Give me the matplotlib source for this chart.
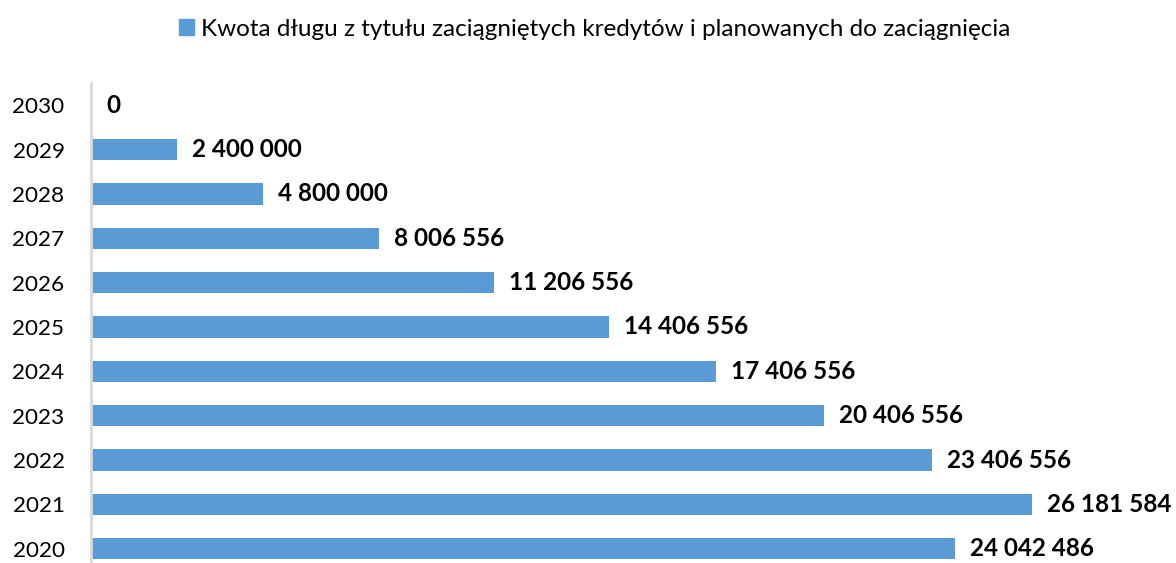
import matplotlib.pyplot as plt
from matplotlib.patches import Patch

plt.rcParams['font.family'] = ['Lato', 'DejaVu Sans']

lata = ['2020', '2021', '2022', '2023', '2024', '2025', '2026', '2027', '2028', '2029', '2030']
kwoty = [24042486, 26181584, 23406556, 20406556, 17406556, 14406556,
         11206556, 8006556, 4800000, 2400000, 0]
seria = 'Kwota długu z tytułu zaciągniętych kredytów i planowanych do zaciągnięcia'
kolor = '#5B9BD5'


def fmt(v):
    return f'{v:,}'.replace(',', ' ')


fig = plt.figure(figsize=(11.76, 5.63), dpi=100)
ax = fig.add_axes([91 / 1176, -8 / 563, 1 - 91 / 1176, 488 / 563])

poz = range(len(lata))
ax.barh(poz, kwoty, height=0.48, color=kolor)
ax.set_xlim(0, 30.2e6)
ax.set_ylim(-0.5, len(lata) - 0.5)

for y, v in zip(poz, kwoty):
    ax.annotate(fmt(v), (v, y), xytext=(15, 0), textcoords='offset pixels',
                ha='left', va='center', fontsize=17.5, fontweight='bold')

ax.set_yticks(list(poz))
ax.set_yticklabels(lata, fontsize=16.2)
ax.tick_params(axis='y', length=0, pad=19)
ax.set_xticks([])
for s in ['top', 'right', 'bottom']:
    ax.spines[s].set_visible(False)
ax.spines['left'].set_color('#D9D9D9')
ax.spines['left'].set_linewidth(2)

fig.legend(handles=[Patch(color=kolor, label=seria)], loc='center',
           bbox_to_anchor=(595 / 1176, 1 - 29 / 563), frameon=False,
           fontsize=17.5, handlelength=0.6, handleheight=0.6, handletextpad=0.3)

fig.savefig('out.png', dpi=100)
